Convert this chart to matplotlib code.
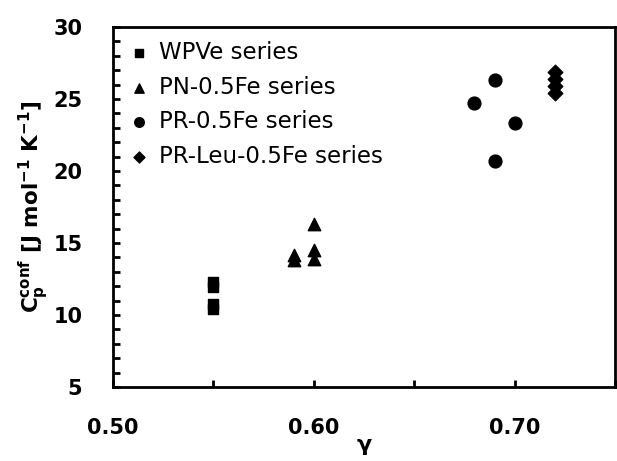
import matplotlib.pyplot as plt
from matplotlib.ticker import MultipleLocator

plt.rcParams['font.family'] = ['DejaVu Sans']

# data
wpve_x = [0.55, 0.55, 0.55, 0.55]
wpve_y = [12.3, 11.95, 10.75, 10.4]

pn_x = [0.59, 0.59, 0.60, 0.60, 0.60]
pn_y = [14.2, 13.8, 16.3, 14.5, 13.9]

pr_x = [0.68, 0.69, 0.70, 0.69]
pr_y = [24.7, 26.3, 23.3, 20.7]

leu_x = [0.72, 0.72, 0.72, 0.72]
leu_y = [26.9, 26.4, 25.9, 25.4]

fig = plt.figure(figsize=(6.17, 4.61), dpi=100)
ax = fig.add_axes([113/617, 1 - 387/461, 502/617, 360/461])

ax.scatter(wpve_x, wpve_y, marker='s', s=55, color='black', label='WPVe series')
ax.scatter(pn_x, pn_y, marker='^', s=80, color='black', label='PN-0.5Fe series')
ax.scatter(pr_x, pr_y, marker='o', s=85, color='black', label='PR-0.5Fe series')
ax.scatter(leu_x, leu_y, marker='D', s=55, color='black', label='PR-Leu-0.5Fe series')

ax.set_xlim(0.50, 0.75)
ax.set_ylim(5, 30)
ax.xaxis.set_major_locator(MultipleLocator(0.1))
ax.xaxis.set_minor_locator(MultipleLocator(0.05))
ax.yaxis.set_major_locator(MultipleLocator(5))
ax.yaxis.set_minor_locator(MultipleLocator(1))
ax.xaxis.set_major_formatter(plt.FormatStrFormatter('%.2f'))

ax.tick_params(which='both', direction='in', length=5, width=2)
ax.tick_params(which='major', labelsize=15, pad=22)
for lab in ax.get_xticklabels() + ax.get_yticklabels():
    lab.set_fontweight('bold')
for s in ax.spines.values():
    s.set_linewidth(2)

ax.set_xlabel('γ', fontsize=16, fontweight='bold', labelpad=-2)
ax.set_ylabel(r'C$_\mathregular{p}^\mathregular{conf}$ [J mol$^\mathregular{-1}$ K$^\mathregular{-1}$]',
              fontsize=15.5, fontweight='bold', labelpad=2)

leg = ax.legend(loc='upper left', frameon=False, prop={'size': 16.5},
                handletextpad=0.4, markerscale=0.75, labelspacing=0.5,
                borderaxespad=0.2, handlelength=1.0, borderpad=0.42)

fig.savefig('out.png', dpi=100)
